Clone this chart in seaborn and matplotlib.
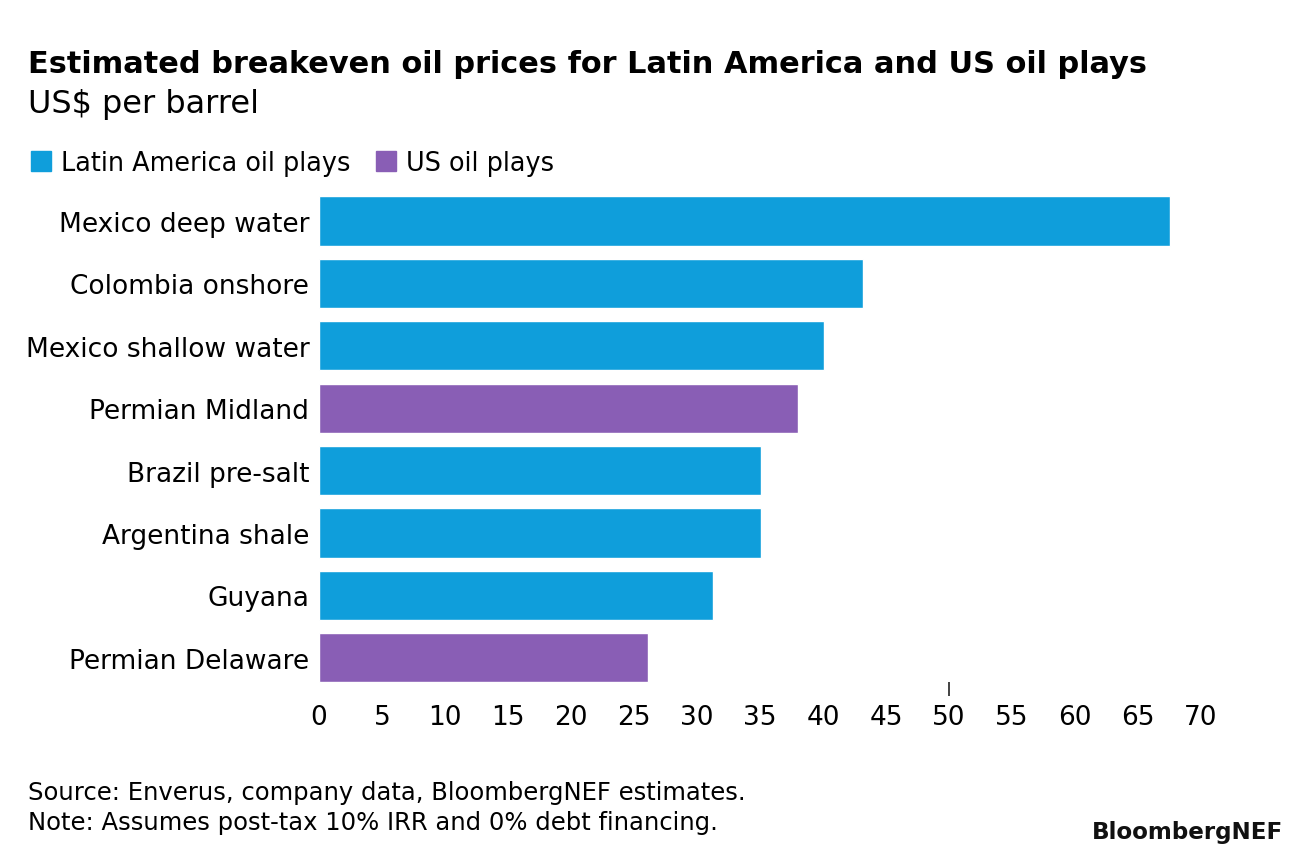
import matplotlib
matplotlib.use("Agg")
import matplotlib.pyplot as plt
import matplotlib.patches as mpatches
import seaborn as sns
import pandas as pd

categories = ["Mexico deep water", "Colombia onshore", "Mexico shallow water",
              "Permian Midland", "Brazil pre-salt", "Argentina shale",
              "Guyana", "Permian Delaware"]
values = [67.5, 43.2, 40.1, 38.0, 35.1, 35.1, 31.3, 26.1]
groups = ["Latin America oil plays", "Latin America oil plays", "Latin America oil plays",
          "US oil plays", "Latin America oil plays", "Latin America oil plays",
          "Latin America oil plays", "US oil plays"]
xticks = list(range(0, 71, 5))

palette = {"Latin America oil plays": "#0F9EDB", "US oil plays": "#895EB5"}

df = pd.DataFrame({"play": categories, "price": values, "group": groups})

sns.set_theme(style="white")
plt.rcParams["font.family"] = ["DejaVu Sans"]

fig = plt.figure(figsize=(12.96, 8.62), dpi=100)
ax = fig.add_axes([319/1296, 1-690/862, (1201-319)/1296, (690-190.8)/862])

sns.barplot(data=df, x="price", y="play", hue="group", palette=palette,
            dodge=False, width=0.79, order=categories, legend=False, ax=ax,
            saturation=1)

ax.set_xlim(0, 70)
ax.set_ylim(7.5, -0.5)
ax.set_xticks(xticks)
ax.set_xticklabels([str(t) for t in xticks], fontsize=19)
ax.tick_params(axis="y", labelsize=19, length=0, pad=7)
ax.tick_params(axis="x", which="major", length=0, pad=11)
ax.xaxis.remove_overlapping_locs = False
ax.set_xticks([50], minor=True)
ax.tick_params(axis="x", which="minor", length=10, width=1.2, color="#222222",
               direction="inout", bottom=True)
ax.set_xlabel("")
ax.set_ylabel("")
for s in ax.spines.values():
    s.set_visible(False)
ax.grid(False)
for lbl in ax.get_xticklabels() + ax.get_yticklabels():
    lbl.set_color("#000000")

fig.text(28/1296, 1-73/862, "Estimated breakeven oil prices for Latin America and US oil plays",
         fontsize=21.9, fontweight="bold", ha="left", va="baseline", color="#000000")
fig.text(28/1296, 1-113/862, "US$ per barrel", fontsize=23, ha="left", va="baseline",
         color="#000000")

handles = [mpatches.Patch(color=palette[k], label=k) for k in palette]
leg = fig.legend(handles=handles, loc="center left", bbox_to_anchor=(31/1296, 1-164/862),
                 ncol=2, frameon=False, fontsize=18.4, handlelength=0.78, handleheight=0.78,
                 handletextpad=0.4, columnspacing=1.0, borderaxespad=0, borderpad=0)
for t in leg.get_texts():
    t.set_color("#000000")

fig.text(28/1296, 1-793/862, "Source: Enverus, company data, BloombergNEF estimates.",
         fontsize=17.5, ha="left", va="center", color="#000000")
fig.text(28/1296, 1-823/862, "Note: Assumes post-tax 10% IRR and 0% debt financing.",
         fontsize=17.5, ha="left", va="center", color="#000000")
fig.text(1283/1296, 1-833/862, "BloombergNEF", fontsize=16.6, fontweight="bold",
         ha="right", va="center", color="#111111")

fig.savefig("out.png", dpi=100)
